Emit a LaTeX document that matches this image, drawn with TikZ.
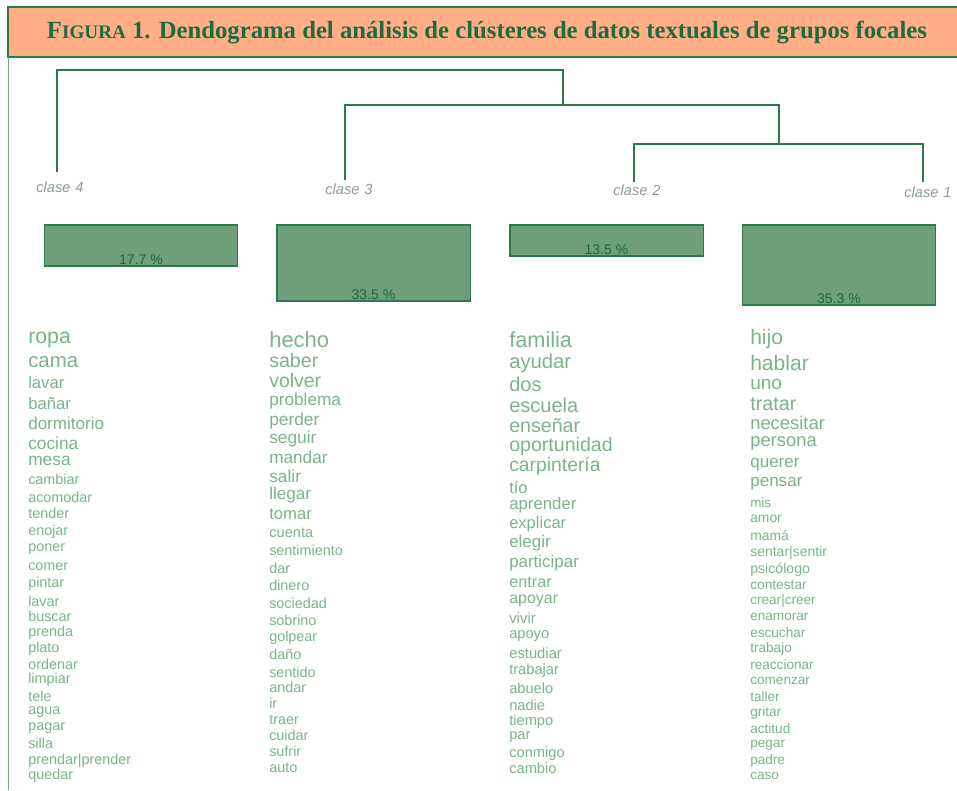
\documentclass[tikz,border=0pt]{standalone}
\usepackage{fontspec}
\setmainfont{Liberation Serif}
\setsansfont{Liberation Sans}
\usepackage{tikz}
\usetikzlibrary{positioning}

\definecolor{titlebg}{HTML}{FFAE86}
\definecolor{darkgreen}{HTML}{1E6B3C}
\definecolor{linegreen}{HTML}{2F7A4A}
\definecolor{framegreen}{HTML}{6AA880}
\definecolor{boxgreen}{HTML}{6E9E7A}
\definecolor{wordgreen}{HTML}{7AB38C}
\definecolor{clasegray}{HTML}{8C9C94}

\begin{document}
\begin{tikzpicture}[x=0.75pt,y=-0.75pt]
	\tikzset{word/.style = {anchor=mid west,inner sep=0pt,yshift=-2pt,text=wordgreen}}
	\tikzset{link/.style = {draw=linegreen,line width=1.4pt}}
	\tikzset{pbox/.style = {draw=linegreen,fill=boxgreen,line width=1pt,minimum width=145pt,inner sep=0pt}}
	\tikzset{pct/.style = {text=darkgreen,inner sep=1pt,font=\sffamily\fontsize{10.5}{10.5}\selectfont}}
	\tikzset{clase/.style = {text=clasegray,inner sep=0pt,font=\sffamily\itshape\fontsize{11}{11}\selectfont}}

	\useasboundingbox (0,0) rectangle (957,790);

	% title
	\draw[draw=linegreen,fill=titlebg,line width=0.8pt] (8,7) rectangle (962,57);
	\node[text=darkgreen,inner sep=0pt] (title) at (487,33)
		{\resizebox{660pt}{!}{\fontsize{20}{20}\selectfont\bfseries F{\fontsize{15.5}{15.5}\selectfont IGURA} 1. Dendograma del análisis de clústeres de datos textuales de grupos focales}};
	\draw[draw=framegreen,line width=0.6pt] (8,57) -- (8,790);

	% classes
	\node[clase] (cl4) at (60,187) {clase\,\,4};
	\node[clase] (cl3) at (349,189) {clase\,\,3};
	\node[clase] (cl2) at (637,190) {clase\,\,2};
	\node[clase] (cl1) at (928,192) {clase\,\,1};

	\coordinate (k4) at (57,172);
	\coordinate (k3) at (345,180);
	\coordinate (k2) at (634,182);
	\coordinate (k1) at (923,182);
	\coordinate (top) at (563,70);
	\coordinate (mid) at (563,105);
	\coordinate (b21) at (779,105);
	\coordinate (t21) at (779,144);
	\coordinate (e1) at (923,144);

	%tree
	\draw[link] (k4) |- (top) -- (mid);
	\draw[link] (k3) |- (b21) -- (t21);
	\draw[link] (k2) |- (e1) -- (k1);

	% percentages
	\node[pbox,minimum height=30.75pt,label={[pct,anchor=south]south:17.7 \%}] (p4) at (141,245.5) {};
	\node[pbox,minimum height=57pt,label={[pct,anchor=south]south:33.5 \%}] (p3) at (373.5,263) {};
	\node[pbox,minimum height=23.25pt,label={[pct,anchor=south]south:13.5 \%}] (p2) at (606.5,240.5) {};
	\node[pbox,minimum height=60pt,label={[pct,anchor=south]south:35.3 \%}] (p1) at (839,265) {};

	% words
	\foreach \w/\y/\s [count=\i] in {ropa/338/16,cama/362/15.3,lavar/383/12.5,bañar/404/12.5,dormitorio/424/12.8,cocina/444/13,mesa/460/13,
		cambiar/479/10.8,acomodar/497/10.8,tender/513/10.8,enojar/530/10.8,poner/546/10.8,comer/565/10.8,pintar/582/10.8,lavar/601/10.8,
		buscar/616/10.8,prenda/631/10.8,plato/647/10.8,ordenar/664/10.8,limpiar/678/10.8,tele/696/10.8,agua/709/10.8,pagar/725/10.8,
		silla/743/10.8,prendar|prender/759/10.8,quedar/774/10.8}
		\node[word,font=\sffamily\fontsize{\s}{\s}\selectfont] (w4-\i) at (28,\y) {\w};

	\foreach \w/\y/\s [count=\i] in {hecho/342/16.5,saber/362/14.7,volver/382/14.6,problema/400/12.9,perder/420/13,seguir/438/13,
		mandar/458/12.9,salir/477/13,llegar/494/12.8,tomar/514/12.5,cuenta/532/11,sentimiento/550/10.8,dar/568/10.8,dinero/585/10.8,
		sociedad/603/10.8,sobrino/620/10.8,golpear/636/10.8,daño/654/10.8,sentido/672/10.8,andar/687/10.8,ir/703/10.8,traer/719/10.8,
		cuidar/735/10.8,sufrir/751/10.8,auto/767/10.8}
		\node[word,font=\sffamily\fontsize{\s}{\s}\selectfont] (w3-\i) at (269,\y) {\w};

	\foreach \w/\y/\s [count=\i] in {familia/342/16.3,ayudar/363/15.2,dos/386/15,escuela/407/15,enseñar/427/14.7,oportunidad/446/14.7,
		carpintería/466/14.5,tío/488/12.4,aprender/504/12.6,explicar/523/12.4,elegir/542/12.7,participar/562/12.7,entrar/582/12.2,
		apoyar/598/12,vivir/618/11.2,apoyo/633/11,estudiar/653/11.1,trabajar/669/11,abuelo/688/11,nadie/705/11,tiempo/720/11,
		par/734/11,conmigo/752/11,cambio/768/11}
		\node[word,font=\sffamily\fontsize{\s}{\s}\selectfont] (w2-\i) at (509,\y) {\w};

	\foreach \w/\y/\s [count=\i] in {hijo/339/15.8,hablar/365/15.8,uno/384/14.3,tratar/405/14.8,necesitar/424/13.8,persona/441/13.8,
		querer/462/12.8,pensar/481/12.8,mis/502/10.1,amor/517/10.4,mamá/535/10.4,sentar|sentir/551/10.5,psicólogo/568/10.6,
		contestar/584/10.3,crear|creer/599/10.2,enamorar/615/10.2,escuchar/632/10.2,trabajo/647/10.2,reaccionar/664/10.2,
		comenzar/679/10.2,taller/696/10.2,gritar/711/10.2,actitud/728/10.2,pegar/742/10.2,padre/759/10.2,caso/774/10.2}
		\node[word,font=\sffamily\fontsize{\s}{\s}\selectfont] (w1-\i) at (750,\y) {\w};
\end{tikzpicture}
\end{document}
